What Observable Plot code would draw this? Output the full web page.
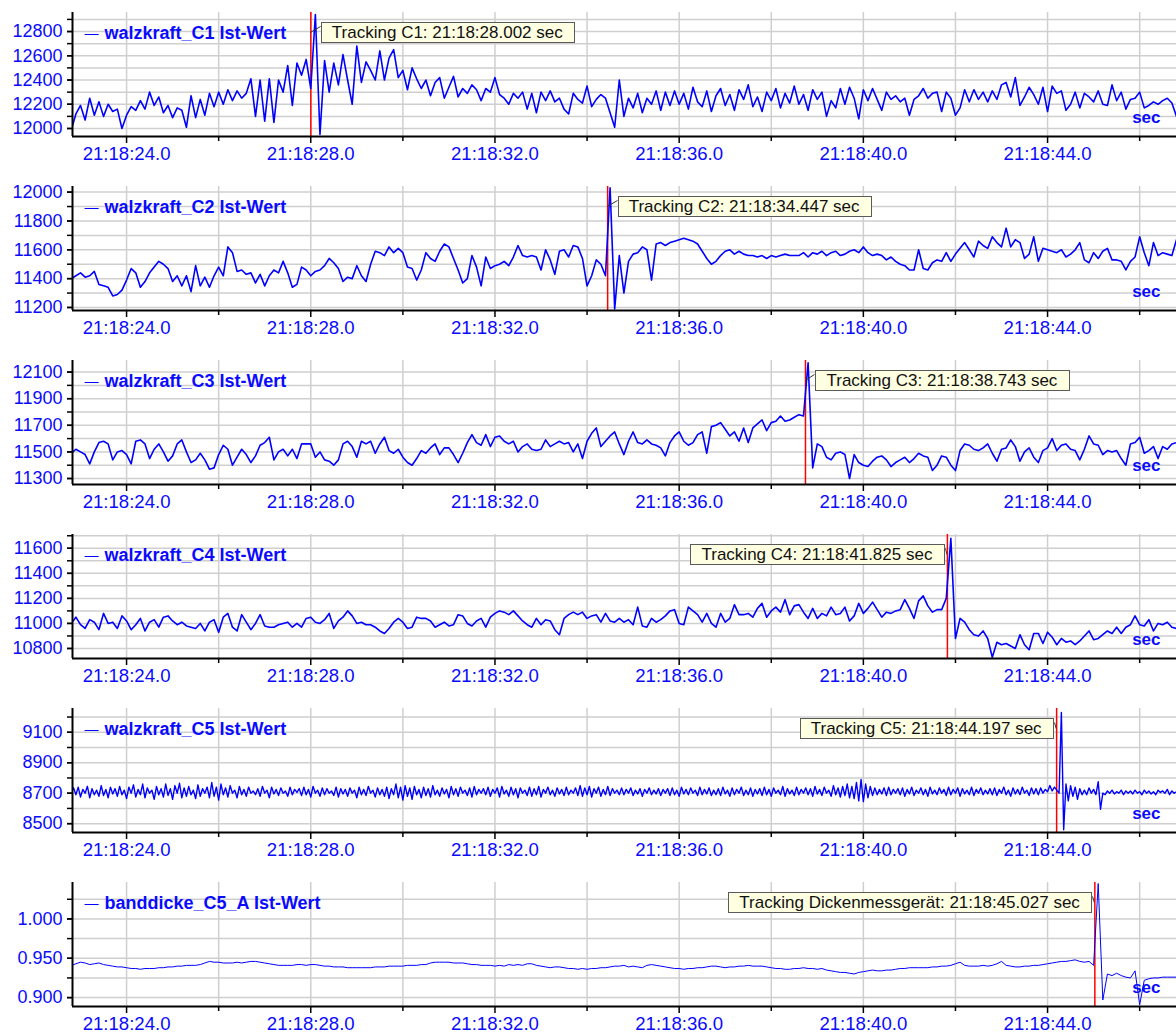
<!DOCTYPE html>
<html><head><meta charset="utf-8">
<script src="https://cdn.jsdelivr.net/npm/d3@7"></script>
<script src="https://cdn.jsdelivr.net/npm/@observablehq/plot@0.6"></script>
<style>
body{margin:0;background:#fff;}
#charts svg{display:block;}
</style></head><body><div id="charts"></div>
<script>
// sample times: seconds after 21:18:00
const T0 = 22.8;
const DT = 0.1;
const DT5 = 0.05;
const xDomain = [22.826, 46.8];
const xTickMajor = [24, 28, 32, 36, 40, 44];
const xTickLabels = ["21:18:24.0", "21:18:28.0", "21:18:32.0", "21:18:36.0", "21:18:40.0", "21:18:44.0"];
const xTickMinor = [26, 30, 34, 38, 42, 46];
const xGrid = [24, 26, 28, 30, 32, 34, 36, 38, 40, 42, 44, 46];

const seriesNames = ["walzkraft_C1 Ist-Wert", "walzkraft_C2 Ist-Wert", "walzkraft_C3 Ist-Wert", "walzkraft_C4 Ist-Wert", "walzkraft_C5 Ist-Wert", "banddicke_C5_A Ist-Wert"];
const trackingLabels = ["Tracking C1: 21:18:28.002 sec", "Tracking C2: 21:18:34.447 sec", "Tracking C3: 21:18:38.743 sec", "Tracking C4: 21:18:41.825 sec", "Tracking C5: 21:18:44.197 sec", "Tracking Dickenmessgerät: 21:18:45.027 sec"];
const trackingTimes = [28.002, 34.447, 38.743, 41.825, 44.197, 45.027];
const unitLabel = "sec";

const c1YMajor = [12000, 12200, 12400, 12600, 12800];
const c1YMinor = [12000, 12100, 12200, 12300, 12400, 12500, 12600, 12700, 12800, 12900];
const c2YMajor = [11200, 11400, 11600, 11800, 12000];
const c2YMinor = [11200, 11300, 11400, 11500, 11600, 11700, 11800, 11900, 12000];
const c3YMajor = [11300, 11500, 11700, 11900, 12100];
const c3YMinor = [11300, 11400, 11500, 11600, 11700, 11800, 11900, 12000, 12100];
const c4YMajor = [10800, 11000, 11200, 11400, 11600];
const c4YMinor = [10800, 10900, 11000, 11100, 11200, 11300, 11400, 11500, 11600, 11700];
const c5YMajor = [8500, 8700, 8900, 9100];
const c5YMinor = [8500, 8600, 8700, 8800, 8900, 9000, 9100, 9200];
const c6YMajor = [0.900, 0.950, 1.000];
const c6YMinor = [0.900, 0.925, 0.950, 0.975, 1.000, 1.025];

const c1 = [11990,12120,12190,12070,12250,12110,12220,12100,12200,12140,12160,12000,12110,
12180,12150,12230,12160,12300,12190,12260,12130,12190,12090,12170,12150,12010,12270,12090,12240,12110,12290,12180,
12300,12200,12320,12230,12310,12250,12290,12410,12100,12400,12060,12410,12050,12400,12300,12520,12190,12540,12440,12570,12330,
12940,11950,
12560,12300,12540,12360,12610,12400,12200,12680,12380,12550,12480,12400,12640,12400,12580,12650,12420,12480,12320,12500,12410,12330,12400,12270,12380,12420,12250,12340,12430,12260,12330,12290,12360,12320,12230,12330,12300,
12420,12280,12250,12200,12290,12250,12300,12160,12290,12130,12300,12230,12310,12220,12250,12160,12120,12290,12240,12210,12350,12180,12240,12280,12250,12130,12010,12400,12100,12250,12170,12290,12130,12250,12200,12310,12150,12300,12190,12310,12200,
12290,12160,12340,12220,12180,12310,12140,12270,12330,12190,12280,12150,12320,12240,12360,12180,12260,12140,12300,12230,12330,12170,12290,12210,12350,12200,12280,12150,12320,12240,12300,12100,12230,12170,12330,12200,12340,12250,12080,
12320,12230,12330,12240,12150,12300,12240,12270,12220,12250,12110,12240,12270,12330,12250,12290,12300,12140,12300,12250,12110,12170,12320,12220,12320,12240,12300,12220,12310,12240,12360,12380,12260,12420,12190,12260,12340,12280,12200,12340,12140,12350,12290,12310,12150,12200,12300,12170,12290,12260,12220,12310,12200,12190,12360,12230,12300,12160,12240,12250,12300,12170,12190,12220,12200,12230,12250,12210,12100];

const c2 = [11400,11420,11440,11410,11420,11450,11360,11350,11340,11280,
11290,11320,11390,11470,11440,11340,11380,11440,11480,11520,
11500,11470,11380,11420,11350,11420,11310,11490,11350,11410,
11340,11420,11480,11420,11620,11580,11450,11460,11430,11440,
11370,11430,11350,11420,11460,11440,11520,11440,11340,11360,
11480,11460,11420,11450,11460,11490,11540,11510,11470,11380,
11410,11400,11490,11420,11380,11500,11590,11580,11560,11620,
11580,11610,
11580,11480,11470,11390,11460,11580,11540,11520,11590,11640,
11620,11540,11460,11370,11400,11560,11480,11350,11550,11470,
11490,11500,11520,11490,11550,11630,11560,11550,11560,11550,
11460,11600,11530,11430,11590,11600,11550,11630,11620,11540,
11350,11420,11530,11500,11420,12030,11190,
11560,11300,11520,11570,11580,11620,11600,11390,11640,11650,
11630,11650,11660,11670,11680,11670,11660,11640,11590,11540,
11500,11520,11560,11590,11600,11570,11590,11570,11560,11560,
11550,11560,11540,11560,11550,11560,11570,11560,11560,
11560,11580,11550,11580,11570,11590,11560,11580,11590,11560,
11570,11590,11600,11580,11620,11580,11560,11570,11560,11530,
11550,11520,11500,11490,11460,11460,11600,11470,11460,11510,
11530,11520,11580,11520,11570,11610,11650,11600,11550,11660,
11630,11610,11690,11650,11620,11750,11620,11670,11650,11540,
11570,11690,11520,11610,11600,11590,11580,11600,11550,11570,
11600,11650,11530,11510,11580,11540,11590,11610,11530,11530,
11520,11460,11520,11550,11690,11580,11490,11650,11560,11580,
11570,11560,11670];

const c3 = [11490,11520,11500,11480,11410,11500,11570,11580,11560,11440,
11500,11510,11480,11410,11580,11590,11560,11450,11520,11560,
11500,11430,11470,11560,11590,11500,11420,11440,11490,11440,
11370,11380,11480,11550,11520,11400,11460,11520,11480,11420,
11470,11550,11570,11610,11440,11500,11520,11470,11520,11450,
11560,11560,11560,11460,11500,11440,11430,11400,11440,11560,
11580,11540,11460,11580,11560,11580,11490,11560,11610,11510,
11490,11520,11460,11420,11400,11450,11510,11490,11530,11560,
11480,11530,11530,11480,11420,11490,11570,11630,11570,11550,
11630,11540,11610,11620,11580,11560,11580,11500,11540,11560,
11520,11510,11520,11590,11540,11560,11580,11560,11570,11500,
11560,11450,11580,11640,11680,
11540,11580,11620,11650,11560,11480,11580,11650,11570,11560,
11590,11560,11550,11530,11470,11570,11620,11650,11580,11550,
11570,11630,11650,11490,11690,11700,11720,11670,11620,11650,
11580,11680,11570,11680,11710,11740,11660,11720,11730,11770,
11730,11740,11760,11780,11770,12170,11380,11560,11540,11460,
11440,11490,11500,11480,11300,11480,11420,11400,11390,11430,
11460,11470,11440,11390,11420,11440,11460,11420,11450,11490,
11470,11460,11360,11400,11470,11460,11400,11360,11510,11560,
11550,11520,11510,11530,11560,11490,11430,11520,11530,11590,
11540,11430,11500,11530,11460,11420,11510,11530,11600,11510,
11550,11560,11520,11510,11440,11520,11620,11560,11550,11480,
11510,11500,11510,11450,11400,11560,11570,11610,11490,11510,
11540,11450,11540,11520,11560,11570];

const c4 = [11000,11050,10990,10960,11030,11010,10950,11080,11000,11010,
10960,11060,11020,10950,10990,11040,10940,11010,11030,10970,
11050,11060,11020,10990,11010,10980,10970,10960,11000,10940,
11010,11030,10930,11050,11080,10970,10940,11070,11010,10950,
11000,11070,10980,10970,10970,10990,11000,11010,10970,11000,
10970,11040,11050,11010,11000,11030,11080,10960,11020,11050,
11100,11060,11000,11010,10990,10990,10970,10940,10920,10960,
11010,11040,11010,10960,10970,11050,11040,11040,11020,10970,
10990,11010,10980,10990,11070,11060,11000,10980,11020,11040,
10970,11050,11080,11100,11090,11070,11100,11060,11020,10990,
10970,11040,10990,11030,11020,10950,10910,11040,11070,11090,
11070,11090,11040,11060,11070,
11010,11080,11020,11010,11040,11010,11030,10990,11130,10980,
10970,11040,11010,11030,11060,11100,11110,11000,10990,11130,
11100,11070,11010,11080,11000,10970,11080,11010,11040,11150,
11070,11070,11080,11050,11120,11160,11050,11100,11130,11090,
11190,11070,11140,11150,11090,11040,11120,11040,11080,11060,
11130,11070,11080,11130,11020,11060,11160,11080,11120,11170,
11110,11050,11090,11080,11100,11110,11190,11120,11040,11180,
11220,11140,11090,11110,11110,11200,11680,10880,11040,11010,
10950,10910,10900,10940,10880,10730,10850,10830,10840,10820,
10800,10910,10830,10790,10920,10920,10840,10930,10890,10830,
10880,10850,10860,10830,10860,10900,10940,10870,10880,10910,
10940,10920,10970,10920,10970,10990,11060,10990,10980,11030,
10940,11000,10990,11010,10970,10960];

const c5 = [8700,8735,8690,8740,8675,8725,8700,8745,8670,8730,8690,8720,8680,8750,8685,8725,8670,8740,8695,8730,
8680,8745,8690,8720,8665,8740,8700,8755,8675,8725,8690,8760,8670,8735,8700,8720,8660,8745,8690,8730,
8675,8760,8685,8730,8660,8750,8700,8765,8670,8735,8680,8745,8690,8720,8665,8755,8680,8730,8700,8740,
8670,8770,8680,8740,8655,8760,8690,8735,8675,8750,8700,8720,8670,8745,8690,8725,8680,8740,8700,8715,
8690,8730,8680,8745,8700,8720,8670,8740,8695,8725,8685,8735,8700,8715,8680,8740,8690,8725,8705,8730,
8685,8740,8690,8725,8675,8745,8700,8720,8680,8735,8690,8730,8700,8715,8685,8740,8675,8730,8695,8725,
8680,8735,8700,8720,8670,8740,8690,8725,8685,8745,8700,8720,8675,8735,8690,8725,8680,8740,8665,8730,
8690,8760,8670,8740,8655,8750,8680,8735,8660,8745,8690,8725,8670,8740,8685,8730,8675,8750,8690,8720,
8680,8735,8695,8725,8670,8745,8690,8730,8680,8740,8700,8720,8685,8735,8675,8745,8690,8725,8700,8730,
8690,8740,8680,8725,8700,8735,8675,8745,8695,8720,8680,8740,8690,8730,8670,8735,8700,8720,8685,8740,
8680,8730,8690,8745,8675,8725,8700,8740,8690,8720,8680,8735,8695,8725,8685,8740,8690,8720,8700,8735,
8685,8750,8680,8735,8690,8745,8675,8730,8700,8740,8680,8725,8690,8745,8685,8730,8700,8720,8690,8735,
8690,8725,8700,8735,8685,8720,8695,8730,8680,8725,8700,8735,8690,8720,8695,8730,8685,8725,8700,8730,
8685,8735,8690,8720,8680,8740,8695,8725,8690,8735,8700,8720,8685,8740,8690,8725,8695,8735,8685,8720,
8690,8730,8685,8740,8695,8720,8680,8735,8690,8725,8700,8740,8685,8720,8690,8735,8680,8725,8695,8730,
8685,8740,8690,8725,8680,8735,8700,8720,8690,8745,8680,8730,8695,8720,8685,8740,8690,8725,8700,8735,
8690,8730,8680,8745,8695,8725,8685,8740,8700,8720,8680,8750,8690,8735,8675,8745,8685,8760,8670,8745,
8665,8770,8650,8790,8645,8760,8670,8745,8685,8735,8690,8725,8695,8735,8685,8740,8690,8725,8700,8730,
8690,8735,8680,8725,8695,8740,8685,8720,8700,8735,8690,8725,8680,8740,8695,8720,8690,8735,8700,8725,
8685,8740,8690,8725,8700,8735,8680,8730,8695,8720,8690,8740,8685,8725,8700,8735,8690,8720,8695,8730,
8690,8735,8685,8725,8700,8740,8690,8720,8680,8735,8695,8725,8690,8740,8700,8720,8685,8735,8695,8730,
8690,8735,8700,8725,8710,8750,8715,8740,8720,8700,9230,8460,8760,8650,8750,8680,8740,8660,8730,8690,
8720,8690,8735,8700,8725,8690,8775,8595,8700,8690,8715,8700,8720,8695,8710,8700,8720,8690,8715,8700,
8715,8695,8720,8700,8710,8690,8720,8700,8715,8695,8710,8690,8720,8705,8715,8700,8725,8690,8715,8700,
8710];

const c6 = [0.941,
0.943,0.945,0.944,0.942,0.943,
0.944,0.942,0.941,0.940,0.939,0.939,
0.938,0.937,0.937,0.936,0.937,0.937,
0.937,0.938,0.938,0.939,0.939,0.940,
0.940,0.941,0.941,0.941,0.942,0.944,
0.946,0.945,0.945,0.944,0.944,0.944,
0.945,0.944,0.945,0.946,0.946,0.945,
0.944,0.943,0.942,0.941,0.941,0.941,
0.941,0.942,0.942,0.941,0.942,0.942,
0.941,0.940,0.940,0.939,0.939,0.939,
0.938,0.938,0.938,0.938,0.938,0.938,
0.939,0.939,0.939,0.940,0.940,0.940,
0.940,0.941,0.941,0.941,0.942,0.942,
0.944,0.945,0.945,0.945,0.945,0.944,
0.944,0.944,0.943,0.942,0.942,0.941,
0.941,0.941,0.940,0.941,0.940,0.942,
0.941,0.942,0.941,0.943,0.943,0.941,
0.940,0.939,0.938,0.939,0.939,0.938,
0.937,0.937,0.936,0.937,0.936,0.937,
0.937,0.938,0.938,0.939,0.940,0.940,
0.941,0.939,0.940,0.939,0.938,0.941,
0.942,0.941,0.940,0.939,0.938,0.937,
0.937,0.936,0.937,0.937,0.938,0.938,
0.939,0.940,0.940,0.939,0.938,0.939,
0.939,0.940,0.940,0.941,0.940,0.940,
0.940,0.939,0.938,0.937,0.937,0.936,
0.936,0.937,0.937,0.938,0.937,0.937,
0.936,0.937,0.935,0.934,0.933,0.932,
0.932,0.931,0.930,0.932,0.933,0.934,
0.935,0.934,0.934,0.935,0.935,0.936,
0.937,0.937,0.938,0.938,0.938,0.938,
0.938,0.939,0.939,0.940,0.940,0.941,
0.943,0.945,0.941,0.940,0.940,0.940,
0.941,0.940,0.941,0.943,0.946,0.941,
0.940,0.939,0.939,0.940,0.940,0.941,
0.941,0.942,0.943,0.944,0.945,0.946,
0.946,0.947,0.948,0.946,0.945,0.946,
0.941,1.045,0.897,0.930,0.928,0.931,0.928,0.926,0.925,0.934,0.891,0.922,0.924,0.925,0.925,0.926,0.926,0.926,0.926];

const fmtInt = d3.format("d");
const fmt3 = d3.format(".3f");

const panels = [
  {values: c1, dt: DT, name: seriesNames[0], label: trackingLabels[0], track: trackingTimes[0], yDomain: [11934, 12957], yMajor: c1YMajor, yMinor: c1YMinor, fmt: fmtInt, side: 1, sw: 1.6},
  {values: c2, dt: DT, name: seriesNames[1], label: trackingLabels[1], track: trackingTimes[1], yDomain: [11179, 12039], yMajor: c2YMajor, yMinor: c2YMinor, fmt: fmtInt, side: 1, sw: 1.6},
  {values: c3, dt: DT, name: seriesNames[2], label: trackingLabels[2], track: trackingTimes[2], yDomain: [11255, 12187], yMajor: c3YMajor, yMinor: c3YMinor, fmt: fmtInt, side: 1, sw: 1.6},
  {values: c4, dt: DT, name: seriesNames[3], label: trackingLabels[3], track: trackingTimes[3], yDomain: [10720, 11710], yMajor: c4YMajor, yMinor: c4YMinor, fmt: fmtInt, side: -1, sw: 1.6},
  {values: c5, dt: DT5, name: seriesNames[4], label: trackingLabels[4], track: trackingTimes[4], yDomain: [8442, 9256], yMajor: c5YMajor, yMinor: c5YMinor, fmt: fmtInt, side: -1, sw: 1.4},
  {values: c6, dt: DT, name: seriesNames[5], label: trackingLabels[5], track: trackingTimes[5], yDomain: [0.8887, 1.0463], yMajor: c6YMajor, yMinor: c6YMinor, fmt: fmt3, side: -1, sw: 1}
];

const W = 1176, H = 174, ML = 72, MT = 12, MB = 38;
const BLUE = "#0000ff", TXT = "#0a0aff", GRID = "#cfcfcf";
const FONT = "'Liberation Sans', Arial, Helvetica, sans-serif";

function panel(p) {
  const data = p.values.map((v, i) => ({t: T0 + i * p.dt, v}));
  return Plot.plot({
    width: W, height: H, marginLeft: ML, marginRight: 0, marginTop: MT, marginBottom: MB,
    style: {fontFamily: FONT, fontSize: "18px", background: "white", overflow: "visible"},
    x: {type: "linear", domain: xDomain, label: null},
    y: {type: "linear", domain: p.yDomain, label: null},
    marks: [
      Plot.gridX(xGrid, {stroke: GRID, strokeOpacity: 1, strokeWidth: 1.5}),
      Plot.gridY(p.yMinor, {stroke: GRID, strokeOpacity: 1, strokeWidth: 1.5}),
      Plot.ruleX([p.track], {stroke: "#ff0000", strokeWidth: 1.5}),
      Plot.line(data, {x: "t", y: "v", stroke: BLUE, strokeWidth: p.sw, strokeLinejoin: "round", clip: true}),
      Plot.ruleX([xDomain[0]], {stroke: "black", strokeWidth: 2}),
      Plot.ruleY([p.yDomain[0]], {stroke: "black", strokeWidth: 2}),
      Plot.axisX(xTickMinor, {anchor: "bottom", tickSize: 5, tickFormat: () => "", stroke: "black", strokeWidth: 1.5, label: null}),
      Plot.axisX(xTickMajor, {anchor: "bottom", tickSize: 7, tickPadding: 3, tickFormat: (d) => xTickLabels[xTickMajor.indexOf(d)], stroke: "black", strokeWidth: 1.5, fill: TXT, fontSize: 18.6, label: null}),
      Plot.axisY(p.yMinor, {anchor: "left", tickSize: 5, tickFormat: () => "", stroke: "black", strokeWidth: 1.5, label: null}),
      Plot.axisY(p.yMajor, {anchor: "left", tickSize: 5, tickPadding: 5, tickFormat: p.fmt, stroke: "black", strokeWidth: 1.5, fill: TXT, fontSize: 18, label: null}),
      Plot.text(["—"], {text: (d) => d, frameAnchor: "top-left", dx: 12, dy: 21, textAnchor: "start", lineAnchor: "middle", fontSize: 14, fill: BLUE}),
      Plot.text([p.name], {text: (d) => d, frameAnchor: "top-left", dx: 32, dy: 21, textAnchor: "start", lineAnchor: "middle", fontSize: 18, fontWeight: "bold", fill: TXT}),
      Plot.text([unitLabel], {text: (d) => d, frameAnchor: "bottom-right", dx: -16, dy: -19, textAnchor: "end", lineAnchor: "middle", fontSize: 17, fontWeight: "bold", fill: TXT}),
      Plot.text([p.track], {x: (d) => d, text: () => p.label, frameAnchor: "top", dy: 20, dx: p.side > 0 ? 21 : -15, textAnchor: p.side > 0 ? "start" : "end", lineAnchor: "middle", fontSize: 17, fill: "#111"})
    ]
  });
}

function decorate(svg, p) {
  const ns = "http://www.w3.org/2000/svg";
  const sr = svg.getBoundingClientRect();
  let lx;
  try { lx = svg.scale("x").apply(p.track); } catch (e) { lx = ML + (p.track - xDomain[0]) / (xDomain[1] - xDomain[0]) * (W - ML); }
  [...svg.querySelectorAll("text")].filter((t) => t.textContent === p.label).forEach((t) => {
    const r = t.getBoundingClientRect();
    const x0 = Math.round(r.left - sr.left - 11) + 0.5;
    const x1 = Math.round(r.right - sr.left + 11) + 0.5;
    const top = MT + 10 + 0.5, h = 20;
    const host = t.parentNode;
    const rect = document.createElementNS(ns, "rect");
    rect.setAttribute("x", x0); rect.setAttribute("y", top);
    rect.setAttribute("width", x1 - x0); rect.setAttribute("height", h);
    rect.setAttribute("fill", "#ffffe1"); rect.setAttribute("stroke", "#5a5a5a"); rect.setAttribute("stroke-width", 1);
    const ld = document.createElementNS(ns, "line");
    if (p.side > 0) {
      ld.setAttribute("x1", lx); ld.setAttribute("y1", top + 10); ld.setAttribute("x2", x0 - 1); ld.setAttribute("y2", top + 4);
    } else {
      ld.setAttribute("x1", x1 + 1); ld.setAttribute("y1", top + 4); ld.setAttribute("x2", lx); ld.setAttribute("y2", top + 10);
    }
    ld.setAttribute("stroke", "#333"); ld.setAttribute("stroke-width", 1);
    host.parentNode.insertBefore(ld, host);
    host.parentNode.insertBefore(rect, host);
  });
}

const container = document.getElementById("charts");
panels.forEach((p) => {
  const svg = panel(p);
  container.appendChild(svg);
  decorate(svg, p);
});
</script>
</body></html>
